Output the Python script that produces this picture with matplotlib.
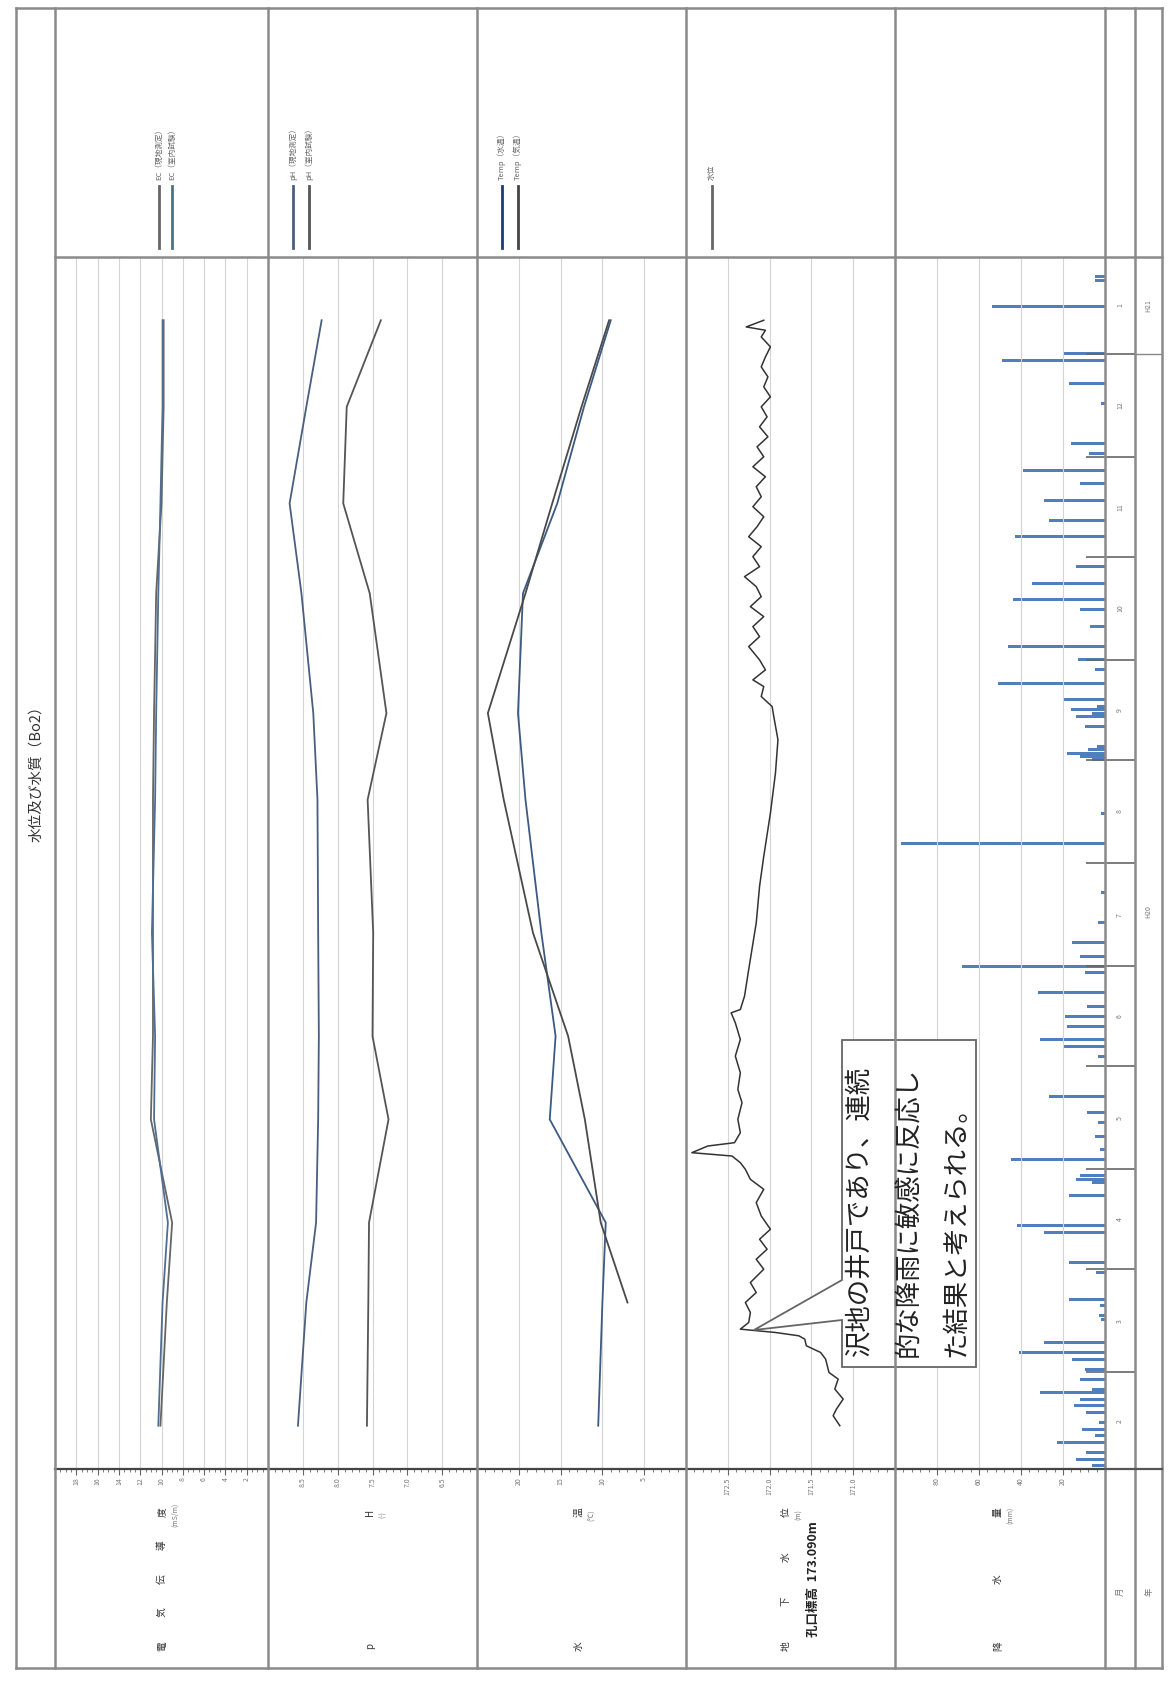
import numpy as np
import pandas as pd
import matplotlib
matplotlib.use('Agg')
import matplotlib.pyplot as plt
from matplotlib.patches import Polygon
from matplotlib.ticker import MultipleLocator, FixedLocator, FormatStrFormatter

plt.rcParams['font.family'] = ['Noto Sans CJK JP', 'DejaVu Sans']

# time = days after 2008-02-01
START = pd.Timestamp('2008-02-01')
END_DAY = 364

# water quality sampling (monthly)
sample_day = [13, 50, 74, 105, 130, 161, 201, 227, 263, 290, 319, 345]
ec_field = [10.1, 9.5, 9.0, 11.0, 10.8, 10.8, 10.8, 10.7, 10.5, 10.0, 9.8, 9.8]
ec_lab = [10.3, 9.9, 9.4, 10.7, 10.6, 10.9, 10.6, 10.5, 10.3, 10.1, 9.9, 9.9]
ph_field = [8.57, 8.45, 8.31, 8.28, 8.27, 8.28, 8.29, 8.35, 8.52, 8.69, 8.45, 8.23]
ph_lab = [7.58, 7.56, 7.55, 7.27, 7.50, 7.49, 7.57, 7.30, 7.54, 7.92, 7.87, 7.38]
temp_water = [10.5, 10.0, 9.6, 16.3, 15.6, 17.3, 19.2, 20.1, 19.5, 15.4, 12.2, 9.0]
temp_air = [np.nan, 7.0, 10.2, 12.1, 14.1, 18.3, 21.8, 23.7, 19.2, 16.0, 12.5, 9.2]

# groundwater level (m)
wl_day = [13, 16, 18, 21, 24, 27, 29, 33, 35, 37, 39, 40, 41, 42, 44, 47, 50, 53, 56, 60,
          63, 66, 69, 72, 76, 80, 84, 87, 90, 92, 94, 95, 97, 98, 101, 105, 110, 114, 119, 124,
          129, 134, 137, 138, 142, 150, 164, 175, 184, 197, 209, 219, 226, 229, 232, 235, 237, 240, 243, 247,
          250, 253, 256, 259, 262, 265, 268, 271, 274, 277, 280, 283, 286, 289, 292, 295, 298, 301, 304, 307,
          310, 313, 316, 319, 322, 325, 328, 331, 334, 337, 340, 342, 343, 345]
wl_level = [171.16, 171.24, 171.20, 171.12, 171.22, 171.18, 171.29, 171.33, 171.39, 171.56, 171.58, 171.65, 171.93, 172.35, 172.25, 172.23, 172.29, 172.16, 172.23, 172.07,
            172.16, 172.03, 172.12, 171.99, 172.10, 172.16, 172.07, 172.23, 172.29, 172.35, 172.45, 172.93, 172.74, 172.42, 172.35, 172.38, 172.33, 172.38, 172.35, 172.41,
            172.35, 172.41, 172.46, 172.35, 172.30, 172.25, 172.16, 172.12, 172.07, 171.99, 171.93, 171.90, 171.95, 171.97, 172.10, 172.07, 172.20, 172.05, 172.12, 172.25,
            172.12, 172.20, 172.07, 172.23, 172.10, 172.16, 172.30, 172.12, 172.20, 172.10, 172.25, 172.15, 172.07, 172.20, 172.10, 172.16, 172.05, 172.20, 172.07, 172.15,
            172.02, 172.12, 172.03, 172.10, 171.99, 172.07, 172.02, 172.10, 172.05, 171.99, 172.10, 172.05, 172.28, 172.07]

# daily rainfall (mm)
rain_day = [1, 3, 5, 8, 10, 12, 14, 17, 19, 21, 23, 24, 27, 30, 33, 35, 38, 45, 46, 49,
            51, 59, 62, 71, 73, 82, 86, 87, 88, 93, 96, 100, 104, 107, 112, 124, 127, 129, 133, 136,
            139, 143, 149, 151, 154, 158, 164, 173, 188, 197, 213, 214, 215, 216, 217, 223, 226, 227, 228, 229,
            231, 236, 240, 243, 247, 253, 258, 261, 266, 271, 280, 285, 291, 296, 300, 305, 308, 320, 326, 333,
            335, 349, 357, 358]
rain_mm = [6, 14, 9, 23, 5, 11, 3, 9, 15, 12, 31, 6, 12, 9.5, 15.5, 41, 29, 2, 3, 2.5,
           17, 4.4, 17, 29, 42, 17, 6, 14, 12, 45, 2.5, 5, 3.5, 8.7, 26.6, 3.5, 19.8, 30.8, 18, 19,
           8.7, 31.7, 9.5, 68, 12, 15.5, 3.5, 2, 97, 1.7, 6, 12, 18, 8, 4, 9.4, 14, 6, 16, 4,
           20, 51, 5, 13, 46, 7, 12, 44, 35, 13.8, 42.7, 26.6, 29, 12, 39, 7.8, 16, 1.7, 17.2, 49,
           20, 54, 5, 5]

month_labels = ['2', '3', '4', '5', '6', '7', '8', '9', '10', '11', '12', '1']
year_labels = ['H20', 'H21']

W, H = 1168, 1682
fig = plt.figure(figsize=(W / 100, H / 100), dpi=100)


def rect(x0, y0, x1, y1):
    return [x0 / W, 1 - y1 / H, (x1 - x0) / W, (y1 - y0) / H]


PLOT_TOP, AXIS_Y = 257, 1469
cols = [16, 55, 268, 477, 686, 895, 1105, 1135, 1162]
grid_c = '#d4d4d4'
tick_c = '#666666'

month_starts = pd.date_range('2008-03-01', '2009-01-01', freq='MS')
month_bounds = [(d - START).days for d in month_starts]
edges = [0] + month_bounds + [END_DAY]


def value_axes(x0, x1, lim, majors, minor, fmt):
    ax = fig.add_axes(rect(x0, PLOT_TOP, x1, AXIS_Y))
    ax.set_xlim(*lim)
    ax.set_ylim(0, END_DAY)
    ax.xaxis.set_major_locator(FixedLocator(majors))
    ax.xaxis.set_minor_locator(MultipleLocator(minor))
    ax.xaxis.set_major_formatter(FormatStrFormatter(fmt))
    ax.grid(axis='x', which='major', color=grid_c, lw=0.8)
    ax.set_yticks([])
    for s in ['top', 'left', 'right']:
        ax.spines[s].set_visible(False)
    ax.spines['bottom'].set_color('#444444')
    ax.spines['bottom'].set_linewidth(1.6)
    ax.tick_params(axis='x', which='major', direction='out', length=4, color=tick_c,
                   labelsize=5, labelcolor='#777777', labelrotation=90, pad=2)
    ax.tick_params(axis='x', which='minor', direction='out', length=2.5, color=tick_c)
    ax.patch.set_alpha(0)
    return ax


# EC
ax1 = value_axes(cols[1], cols[2], (20, 0), np.arange(2, 19, 2), 0.5, '%d')
ax1.plot(ec_field, sample_day, color='#666666', lw=1.3)
ax1.plot(ec_lab, sample_day, color='#4f6f91', lw=1.3)

# pH
ax2 = value_axes(cols[2], cols[3], (9.0, 6.0), np.arange(6.5, 8.51, 0.5), 0.1, '%.1f')
ax2.plot(ph_field, sample_day, color='#4a5e80', lw=1.3)
ax2.plot(ph_lab, sample_day, color='#555555', lw=1.3)

# temperature
ax3 = value_axes(cols[3], cols[4], (25, 0), [5, 10, 15, 20], 1, '%d')
ax3.plot(temp_water, sample_day, color='#3c5a82', lw=1.3)
ax3.plot(temp_air, sample_day, color='#4a4a4a', lw=1.3)

# groundwater level
ax4 = value_axes(cols[4], cols[5], (173.0, 170.5), [171.0, 171.5, 172.0, 172.5], 0.1, '%.1f')
ax4.plot(wl_level, wl_day, color='#333333', lw=1.1)

# rainfall
ax5 = value_axes(cols[5], cols[6], (100, 0), [20, 40, 60, 80], 4, '%d')
ax5.barh(rain_day, rain_mm, height=0.9, color='#4f7fbf')
ax5.yaxis.tick_right()
ax5.set_yticks(month_bounds)
ax5.tick_params(axis='y', direction='in', length=14, color='#666666', width=1.2, labelright=False)

# month column
axm = fig.add_axes(rect(cols[6], PLOT_TOP, cols[7], AXIS_Y))
axm.set_xlim(0, 1)
axm.set_ylim(0, END_DAY)
axm.axis('off')
for b in month_bounds:
    axm.axhline(b, color='#666666', lw=1.2)
for i, lab in enumerate(month_labels):
    axm.text(0.5, (edges[i] + edges[i + 1]) / 2, lab, rotation=90, ha='center', va='center',
             fontsize=5, color='#777777')

# year column
axy = fig.add_axes(rect(cols[7], PLOT_TOP, cols[8], AXIS_Y))
axy.set_xlim(0, 1)
axy.set_ylim(0, END_DAY)
axy.axis('off')
axy.axhline(month_bounds[-1], color='#888888', lw=1.0)
axy.text(0.5, month_bounds[-1] / 2, year_labels[0], rotation=90, ha='center', va='center',
         fontsize=5, color='#777777')
axy.text(0.5, (month_bounds[-1] + END_DAY) / 2, year_labels[1], rotation=90, ha='center',
         va='center', fontsize=5, color='#777777')

# overlay for frame, legends, labels, callout
ov = fig.add_axes([0, 0, 1, 1], zorder=10)
ov.set_xlim(0, W)
ov.set_ylim(H, 0)
ov.axis('off')
ov.patch.set_alpha(0)

frame_c = '#8a8a8a'
for x in cols:
    ov.plot([x, x], [8, 1668], color=frame_c, lw=1.8)
ov.plot([cols[0], cols[-1]], [8, 8], color=frame_c, lw=1.8)
ov.plot([cols[0], cols[-1]], [1668, 1668], color=frame_c, lw=1.8)
ov.plot([cols[1], cols[-1]], [PLOT_TOP, PLOT_TOP], color=frame_c, lw=1.8)
ov.plot([cols[6], cols[-1]], [AXIS_Y, AXIS_Y], color='#555555', lw=1.6)

ov.text(36, 770, '水位及び水質（Bo2）', rotation=90, ha='center', va='center', fontsize=10.5,
        color='#333333')

# legends
legends = [
    (159, 'EC（現地測定）', '#666666'), (172, 'EC（室内試験）', '#4f6f91'),
    (293, 'pH（現地測定）', '#4a5e80'), (309, 'pH（室内試験）', '#555555'),
    (502, 'Temp（水温）', '#1f3c72'), (518, 'Temp（気温）', '#444444'),
    (712, '水位', '#666666'),
]
for x, lab, c in legends:
    ov.plot([x, x], [186, 248], color=c, lw=2)
    ov.text(x, 180, lab, rotation=90, ha='center', va='bottom', fontsize=5.5, color='#666666')

# axis titles in the bottom band
titles = [(162, '電気伝導度', '(mS/m)'), (370, 'pH', '(-)'), (579, '水温', '(℃)'),
          (786, '地下水位', '(m)'), (998, '降水量', '(mm)')]
for x, chars, unit in titles:
    ys = np.linspace(1646, 1512, len(chars))
    for ch, y in zip(chars, ys):
        ov.text(x, y, ch, rotation=90, ha='center', va='center', fontsize=7, color='#333333')
    ov.text(x + 13, 1515, unit, rotation=90, ha='center', va='center', fontsize=5,
            color='#777777')
ov.text(813, 1579, '孔口標高  173.090m', rotation=90, ha='center', va='center', fontsize=9,
        fontweight='bold', color='#222222')
ov.text(1120, 1592, '月', rotation=90, ha='center', va='center', fontsize=6, color='#777777')
ov.text(1149, 1592, '年', rotation=90, ha='center', va='center', fontsize=6, color='#777777')

# callout
box = Polygon([(842, 1040), (976, 1040), (976, 1367), (842, 1367), (842, 1320),
               (754, 1330), (842, 1280)], closed=True, facecolor='white',
              edgecolor='#666666', lw=1.3)
ov.add_patch(box)
notes = ['沢地の井戸であり、連続', '的な降雨に敏感に反応し', 'た結果と考えられる。']
for x, line in zip([860, 908, 956], notes):
    ov.text(x, 1357, line, rotation=90, ha='center', va='bottom', fontsize=19, color='#222222')

fig.savefig('out.png', dpi=100)
